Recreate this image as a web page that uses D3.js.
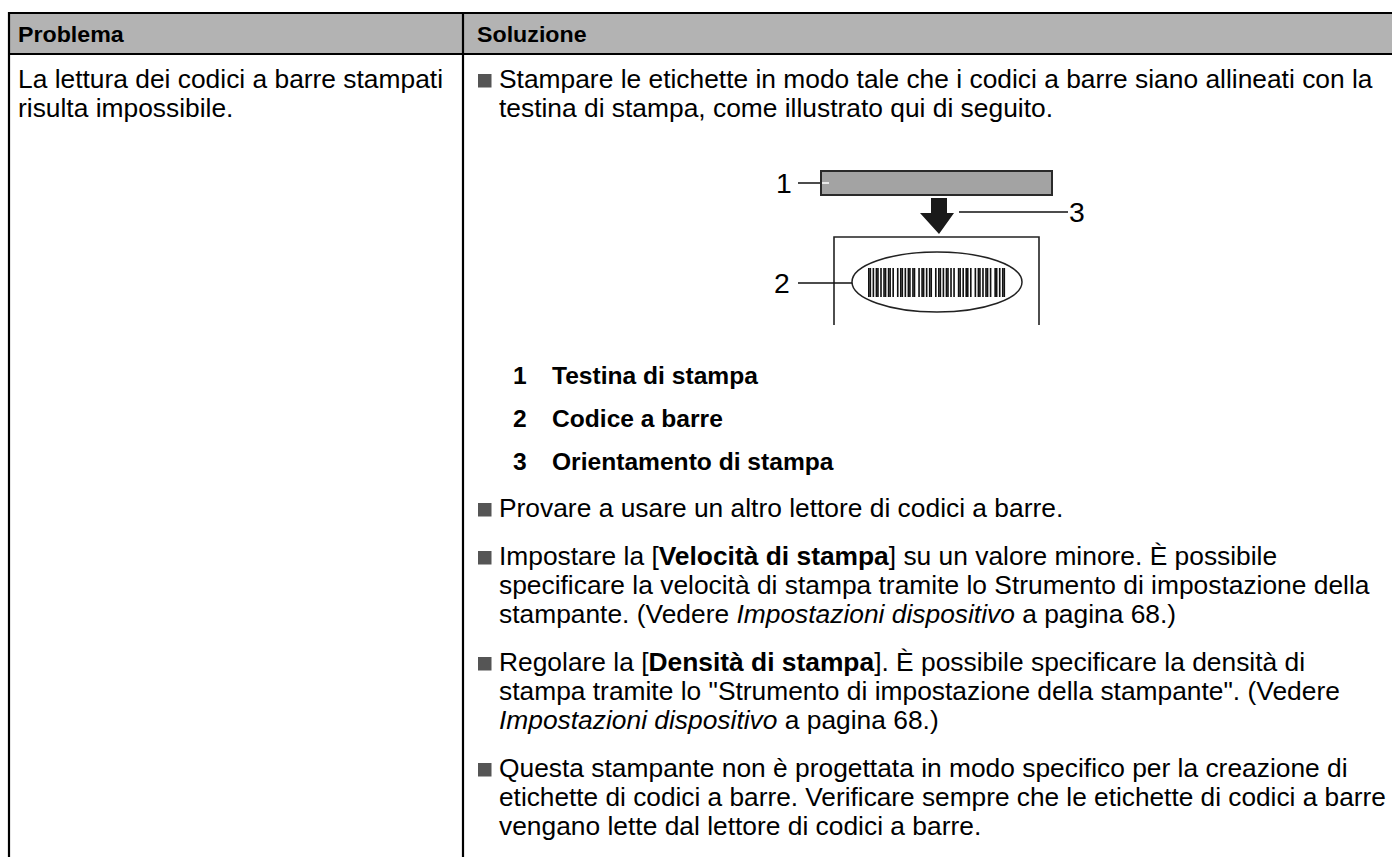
<!DOCTYPE html>
<html><head><meta charset="utf-8">
<script src="https://cdn.jsdelivr.net/npm/d3@7"></script>
<style>html,body{margin:0;padding:0;background:#fff;overflow:hidden}</style>
</head><body>
<script>
// ---- content ----
const headers = ["Problema", "Soluzione"];
const problemLines = ["La lettura dei codici a barre stampati", "risulta impossibile."];
const introLines = [
  [{t:"Stampare le etichette in modo tale che i codici a barre siano allineati con la"}],
  [{t:"testina di stampa, come illustrato qui di seguito."}]
];
const legendNums = ["1", "2", "3"];
const legendLabels = ["Testina di stampa", "Codice a barre", "Orientamento di stampa"];
const solutionItems = [
  [[{t:"Provare a usare un altro lettore di codici a barre."}]],
  [[{t:"Impostare la ["},{t:"Velocità di stampa",b:1},{t:"] su un valore minore. È possibile"}],
   [{t:"specificare la velocità di stampa tramite lo Strumento di impostazione della"}],
   [{t:"stampante. (Vedere "},{t:"Impostazioni dispositivo",i:1},{t:" a pagina 68.)"}]],
  [[{t:"Regolare la ["},{t:"Densità di stampa",b:1},{t:"]. È possibile specificare la densità di"}],
   [{t:"stampa tramite lo \"Strumento di impostazione della stampante\". (Vedere"}],
   [{t:"Impostazioni dispositivo",i:1},{t:" a pagina 68.)"}]],
  [[{t:"Questa stampante non è progettata in modo specifico per la creazione di"}],
   [{t:"etichette di codici a barre. Verificare sempre che le etichette di codici a barre"}],
   [{t:"vengano lette dal lettore di codici a barre."}]]
];
// barcode modules (1 = black, 0 = white)
const barcodeModules = "110101101011011010010110101101100101101011001011010110101001101011010010110101101001101011";

// ---- layout ----
const W = 1392, H = 857;
const FONT = "'Liberation Sans', Arial, Helvetica, sans-serif";
const BODY = 25, SX = 1.055, LEAD = 29, ITEM_GAP = 48;
const RIGHT_LIMIT = 1386;

const svg = d3.select("body").append("svg").attr("width", W).attr("height", H)
  .style("font-family", FONT);

function textLine(x, y, segs, size, weight, sx) {
  let s = sx || SX;
  const t = svg.append("text")
    .attr("font-size", size).attr("fill", "#000")
    .attr("font-weight", weight || "normal");
  segs.forEach(sg => {
    t.append("tspan").text(sg.t)
      .attr("font-weight", sg.b ? "bold" : null)
      .attr("font-style", sg.i ? "italic" : null);
  });
  const w = t.node().getComputedTextLength();
  if (x + w * s > RIGHT_LIMIT) s = (RIGHT_LIMIT - x) / w;
  t.attr("transform", `translate(${x},${y}) scale(${s},1)`);
  return t;
}

// table geometry
const tblLeft = 9, tblTop = 13, colX = 463, headBottom = 54;

svg.append("rect").attr("x", tblLeft).attr("y", tblTop).attr("width", W - tblLeft).attr("height", headBottom - tblTop)
  .attr("fill", "#b3b3b3");

textLine(18, 42, [{t: headers[0]}], 22, "bold");
textLine(colX + 14, 42, [{t: headers[1]}], 22, "bold");

problemLines.forEach((l, i) => textLine(18, 88 + i * LEAD, [{t: l}], BODY));

const bulletX = 478, textX = 499;
function bullet(y) {
  svg.append("rect").attr("x", bulletX).attr("y", y - 14).attr("width", 13.5).attr("height", 13.5).attr("fill", "#555");
}

bullet(88);
introLines.forEach((l, i) => textLine(textX, 88 + i * LEAD, l, BODY));

// ---- diagram ----
const dg = svg.append("g");
dg.append("rect").attr("x", 821).attr("y", 171).attr("width", 231).attr("height", 24)
  .attr("fill", "#a3a3a3").attr("stroke", "#2a2a2a").attr("stroke-width", 2);
dg.append("line").attr("x1", 798).attr("x2", 820).attr("y1", 183).attr("y2", 183).attr("stroke", "#111").attr("stroke-width", 1.5);
dg.append("line").attr("x1", 822).attr("x2", 829).attr("y1", 183).attr("y2", 183).attr("stroke", "#fff").attr("stroke-width", 1.5);
textLine(776, 193, [{t: legendNums[0]}], 27, null, 1.05);
dg.append("path").attr("d", "M931,198 H947 V213 H954 L939,234 L920,213 H931 Z").attr("fill", "#1a1a1a");
dg.append("line").attr("x1", 959).attr("x2", 1068).attr("y1", 212).attr("y2", 212).attr("stroke", "#111").attr("stroke-width", 1.5);
textLine(1069, 222, [{t: legendNums[2]}], 27, null, 1.05);
dg.append("path").attr("d", "M834,325 V237 H1039 V325").attr("fill", "none").attr("stroke", "#222").attr("stroke-width", 1.6);
dg.append("ellipse").attr("cx", 937).attr("cy", 282).attr("rx", 85).attr("ry", 30)
  .attr("fill", "none").attr("stroke", "#222").attr("stroke-width", 1.5);
dg.append("line").attr("x1", 798).attr("x2", 852).attr("y1", 283).attr("y2", 283).attr("stroke", "#111").attr("stroke-width", 1.5);
textLine(774, 293, [{t: legendNums[1]}], 27, null, 1.05);
const mods = barcodeModules.split("");
const bx = d3.scaleLinear().domain([0, mods.length]).range([868, 1005]);
dg.selectAll("rect.bar").data(mods.map((m, i) => ({m, i})).filter(d => d.m === "1"))
  .enter().append("rect").attr("class", "bar")
  .attr("x", d => bx(d.i)).attr("width", d => bx(d.i + 1) - bx(d.i) + 0.1)
  .attr("y", 268).attr("height", 29).attr("fill", "#111");

// legend
legendNums.forEach((n, i) => {
  const y = 384 + i * 43;
  textLine(513, y, [{t: n}], 23, "bold", 1.07);
  textLine(552, y, [{t: legendLabels[i]}], 23, "bold", 1.07);
});

let y = 470 + 47;
solutionItems.forEach(item => {
  bullet(y);
  item.forEach((l, i) => textLine(textX, y + i * LEAD, l, BODY));
  y += (item.length - 1) * LEAD + ITEM_GAP;
});

// ---- table lines ----
const lines = svg.append("g").attr("stroke", "#000").attr("stroke-width", 2.2);
lines.append("line").attr("x1", tblLeft - 1).attr("x2", W).attr("y1", tblTop).attr("y2", tblTop);
lines.append("line").attr("x1", tblLeft).attr("x2", W).attr("y1", headBottom).attr("y2", headBottom);
lines.append("line").attr("x1", tblLeft).attr("x2", tblLeft).attr("y1", tblTop - 1).attr("y2", H);
lines.append("line").attr("x1", colX).attr("x2", colX).attr("y1", tblTop).attr("y2", H);
</script>
</body></html>
